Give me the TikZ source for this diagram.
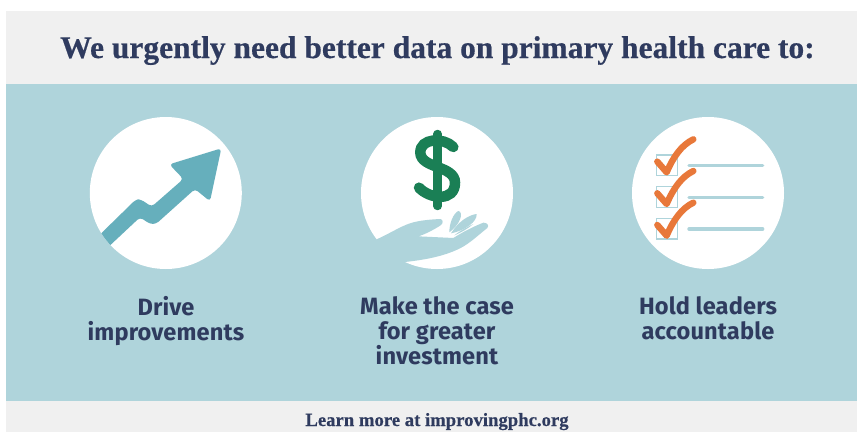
\documentclass[tikz,border=0pt]{standalone}
\usepackage{fontspec}
\setmainfont{Liberation Serif}[BoldFeatures={FakeBold=0.5}]
\newfontfamily\labelfont{Fira Sans}[LetterSpace=0.6]
\definecolor{tealbg}{HTML}{AFD4DB}
\definecolor{graybg}{HTML}{F0F0F0}
\definecolor{navy}{HTML}{2F3B5F}
\definecolor{arrowteal}{HTML}{66AFBC}
\definecolor{money}{HTML}{1A7F55}
\definecolor{tick}{HTML}{E8783A}
\tikzset{
  disc/.style={fill=white,draw=none,circle,minimum size=152pt,inner sep=0pt},
  caption/.style={text=navy,font=\labelfont\bfseries\fontsize{23.6}{25}\selectfont,align=center,anchor=north,inner sep=0pt},
  boxline/.style={draw=tealbg,line width=1.5pt},
  rowline/.style={draw=tealbg,line width=3.4pt,line cap=round},
  checkmark/.style={draw=tick,line width=6.4pt,line cap=round,line join=round},
}
\begin{document}
\begin{tikzpicture}[x=1pt,y=-1pt]
\useasboundingbox (0,0) rectangle (857,432);
\fill[graybg] (6,11) rectangle (857,432);
\fill[tealbg] (6,84) rectangle (857,401);
\node[text=navy,font=\bfseries\fontsize{31.5}{36}\selectfont,anchor=base,inner sep=0pt] (title) at (437.5,58) {We urgently need better data on primary health care to:};
\node[text=navy,font=\bfseries\fontsize{18.7}{22}\selectfont,anchor=base,inner sep=0pt] (more) at (437,426) {Learn more at improvingphc.org};
% discs
\node[disc] (d1) at (165.8,193) {};
\node[disc] (d2) at (437,193) {};
\node[disc] (d3) at (708,193) {};
% arrow
\begin{scope}
\clip (165.8,193) circle (76);
\begin{scope}[shift={(80,110)},x=0.3333pt,y=-0.3333pt]
\fill[arrowteal,rounded corners=3.5pt] (40,393) -- (168,268) -- (182,268) -- (215,290) -- (310,207) -- (268,163) -- (424,115) -- (390,274) -- (345,237) -- (228,342) -- (210,342) -- (180,322) -- (70,425) -- cycle;
\end{scope}
\end{scope}
% money
\begin{scope}[shift={(405,122)},x=0.3333pt,y=-0.3333pt]
\draw[money,line width=8.5pt,line cap=round] (98,36) -- (98,252);
\draw[money,line width=10.5pt,line cap=round] (145,75) .. controls (115,45) and (45,48) .. (46,92) .. controls (47,140) and (150,130) .. (150,182) .. controls (150,240) and (75,232) .. (42,197);
\end{scope}
% hand
\begin{scope}[shift={(370,200)},x=0.3333pt,y=-0.3333pt]
\fill[tealbg] (20,118) .. controls (60,100) and (90,80) .. (120,70) .. controls (150,60) and (190,58) .. (212,57) .. controls (220,60) and (220,70) .. (212,76) .. controls (190,90) and (165,103) .. (145,109) -- (250,114) .. controls (280,95) and (310,80) .. (340,68) .. controls (352,68) and (358,76) .. (352,84) .. controls (325,105) and (300,130) .. (270,145) .. controls (220,170) and (160,180) .. (105,186) -- (60,190) -- (0,140) -- cycle;
\fill[tealbg] (238,97) .. controls (238,70) and (250,40) .. (265,33) .. controls (282,36) and (272,72) .. (238,97) -- cycle;
\fill[tealbg] (243,100) .. controls (265,65) and (295,45) .. (320,42) .. controls (322,65) and (285,92) .. (243,100) -- cycle;
\fill[tealbg] (253,106) .. controls (270,92) and (290,82) .. (310,72) .. controls (295,85) and (275,97) .. (253,106) -- cycle;
\end{scope}
% checklist
\begin{scope}[shift={(625,110)},x=0.3333pt,y=-0.3333pt]
\foreach \dy in {0,95,190}{
  \draw[boxline] (95,135+\dy) rectangle (157,197+\dy);
  \draw[rowline] (192,167+\dy) -- (413,167+\dy);
  \draw[checkmark] (97,155+\dy) -- (125,187+\dy) .. controls (145,140+\dy) and (170,105+\dy) .. (205,88+\dy);
}
\end{scope}
% captions
\node[caption] (c1) at (166,296) {Drive\\improvements};
\node[caption] (c2) at (437,296) {Make the case\\for greater\\investment};
\node[caption] (c3) at (708,296) {Hold leaders\\accountable};
\end{tikzpicture}
\end{document}
